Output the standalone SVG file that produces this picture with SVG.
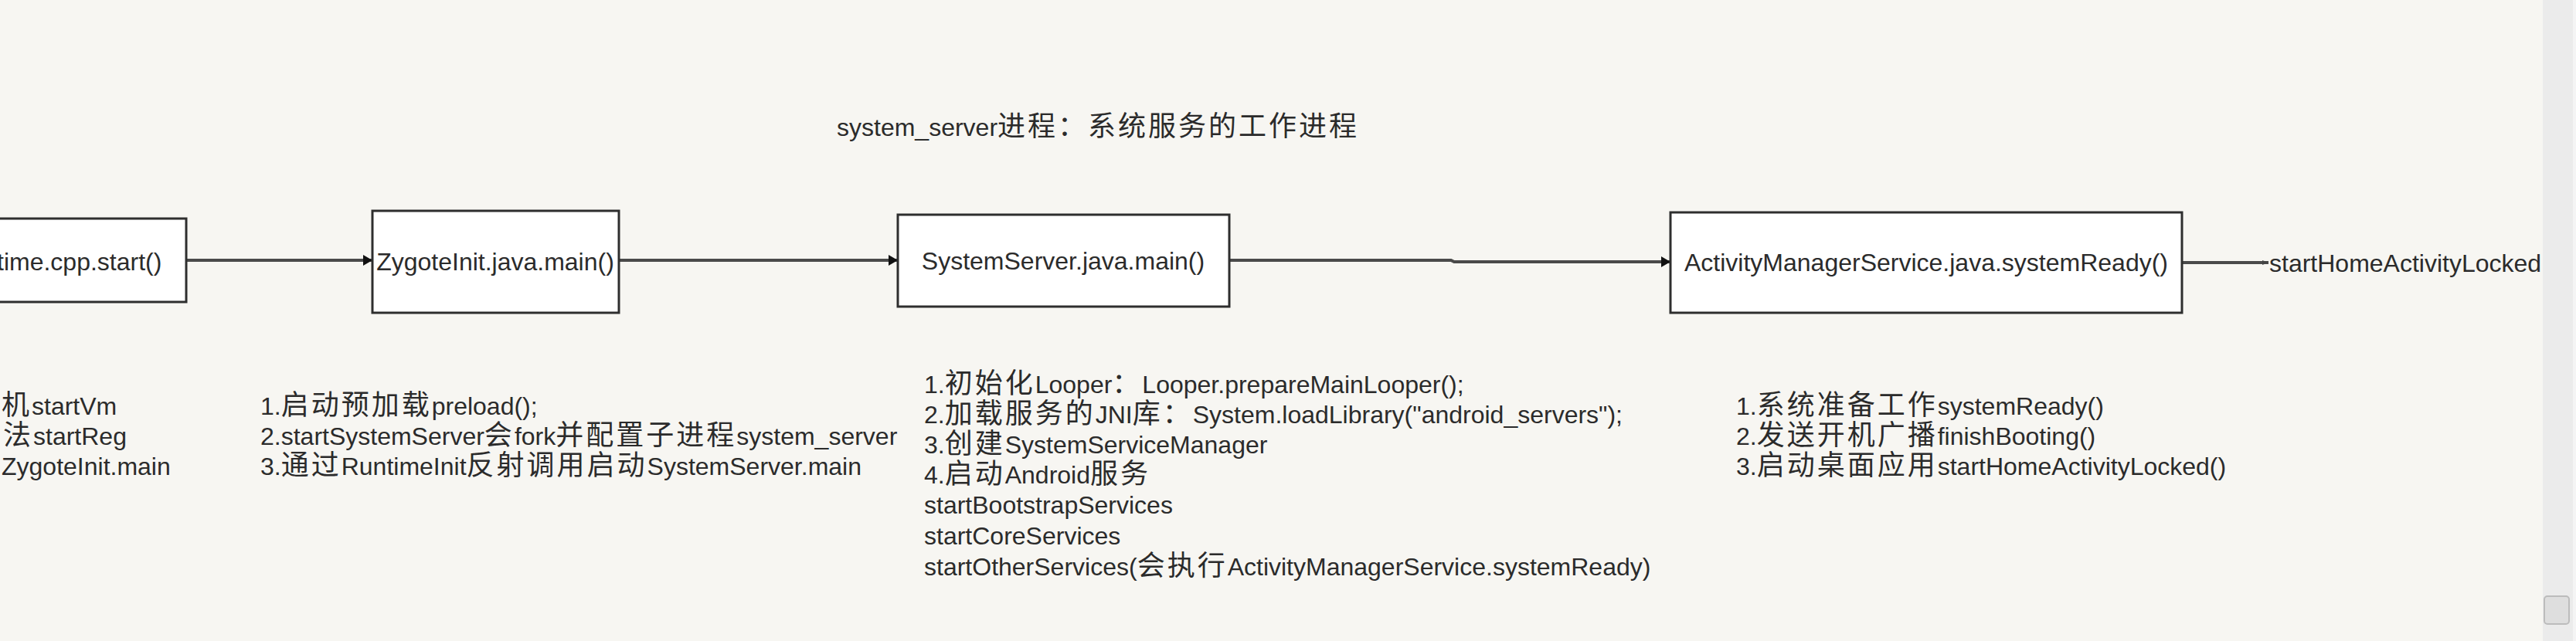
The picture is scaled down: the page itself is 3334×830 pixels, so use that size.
<svg xmlns="http://www.w3.org/2000/svg" width="3334" height="830" viewBox="0 0 3334 830">
<defs>
<style>
text{font-family:"Liberation Sans","Noto Sans CJK SC",sans-serif;font-size:32px;fill:#2b2b2b}
.c{font-size:36px;letter-spacing:3px}
.box{fill:#ffffff;stroke:#2e2e2e;stroke-width:3}
.edge{fill:none;stroke:#4a4a4a;stroke-width:4}
</style>
<marker id="arr" markerUnits="userSpaceOnUse" markerWidth="14" markerHeight="16" refX="12" refY="8" orient="auto">
<path d="M0,1 L12,8 L0,15 z" fill="#111"/>
</marker>
<marker id="arrs" markerUnits="userSpaceOnUse" markerWidth="10" markerHeight="8" refX="8" refY="4" orient="auto">
<path d="M0,1 L8,4 L0,7 z" fill="#444"/>
</marker>
</defs>
<rect x="0" y="0" width="3334" height="830" fill="#f7f6f2"/>
<g id="scrollbar">
<rect x="3291" y="0" width="43" height="830" fill="#ebebeb"/>
<rect x="3330" y="0" width="4" height="830" fill="#f4f4f4"/>
<rect x="3293" y="772" width="32" height="36" rx="4" fill="#dedede" stroke="#bcbcbc" stroke-width="2"/>
</g>
<g id="title">
<text x="1083" y="176">system_server<tspan class="c">进程：系统服务的工作进程</tspan></text>
</g>
<g id="connectors">
<path class="edge" d="M241,337 L482,337" marker-end="url(#arr)"/>
<path class="edge" d="M801,337 L1162,337" marker-end="url(#arr)"/>
<path class="edge" d="M1591,337 L1878,337 L1882,339 L2162,339" marker-end="url(#arr)"/>
<path class="edge" d="M2824,340 L2936,340" stroke-width="3" marker-end="url(#arrs)"/>
</g>
<g id="node-runtime">
<rect class="box" x="-20" y="283" width="261" height="108"/>
<text x="-4" y="350">time.cpp.start()</text>
</g>
<g id="node-zygote">
<rect class="box" x="482" y="273" width="319" height="132"/>
<text x="641" y="350" text-anchor="middle">ZygoteInit.java.main()</text>
</g>
<g id="node-systemserver">
<rect class="box" x="1162" y="278" width="429" height="119"/>
<text x="1376" y="349" text-anchor="middle">SystemServer.java.main()</text>
</g>
<g id="node-ams">
<rect class="box" x="2162" y="275" width="662" height="130"/>
<text x="2493" y="351" text-anchor="middle">ActivityManagerService.java.systemReady()</text>
</g>
<g id="node-home">
<text x="2937" y="352">startHomeActivityLocked</text>
</g>
<g id="notes-runtime">
<text x="2" y="537"><tspan class="c">机</tspan>startVm</text>
<text x="4" y="576"><tspan class="c">法</tspan>startReg</text>
<text x="2" y="615">ZygoteInit.main</text>
</g>
<g id="notes-zygote">
<text x="337" y="537">1.<tspan class="c">启动预加载</tspan>preload();</text>
<text x="337" y="576">2.startSystemServer<tspan class="c">会</tspan>fork<tspan class="c">并配置子进程</tspan>system_server</text>
<text x="337" y="615">3.<tspan class="c">通过</tspan>RuntimeInit<tspan class="c">反射调用启动</tspan>SystemServer.main</text>
</g>
<g id="notes-systemserver">
<text x="1196" y="509">1.<tspan class="c">初始化</tspan>Looper<tspan class="c">：</tspan>Looper.prepareMainLooper();</text>
<text x="1196" y="548">2.<tspan class="c">加载服务的</tspan>JNI<tspan class="c">库：</tspan>System.loadLibrary("android_servers");</text>
<text x="1196" y="587">3.<tspan class="c">创建</tspan>SystemServiceManager</text>
<text x="1196" y="626">4.<tspan class="c">启动</tspan>Android<tspan class="c">服务</tspan></text>
<text x="1196" y="665">startBootstrapServices</text>
<text x="1196" y="705">startCoreServices</text>
<text x="1196" y="745">startOtherServices(<tspan class="c">会执行</tspan>ActivityManagerService.systemReady)</text>
</g>
<g id="notes-ams">
<text x="2247" y="537">1.<tspan class="c">系统准备工作</tspan>systemReady()</text>
<text x="2247" y="576">2.<tspan class="c">发送开机广播</tspan>finishBooting()</text>
<text x="2247" y="615">3.<tspan class="c">启动桌面应用</tspan>startHomeActivityLocked()</text>
</g>
</svg>
